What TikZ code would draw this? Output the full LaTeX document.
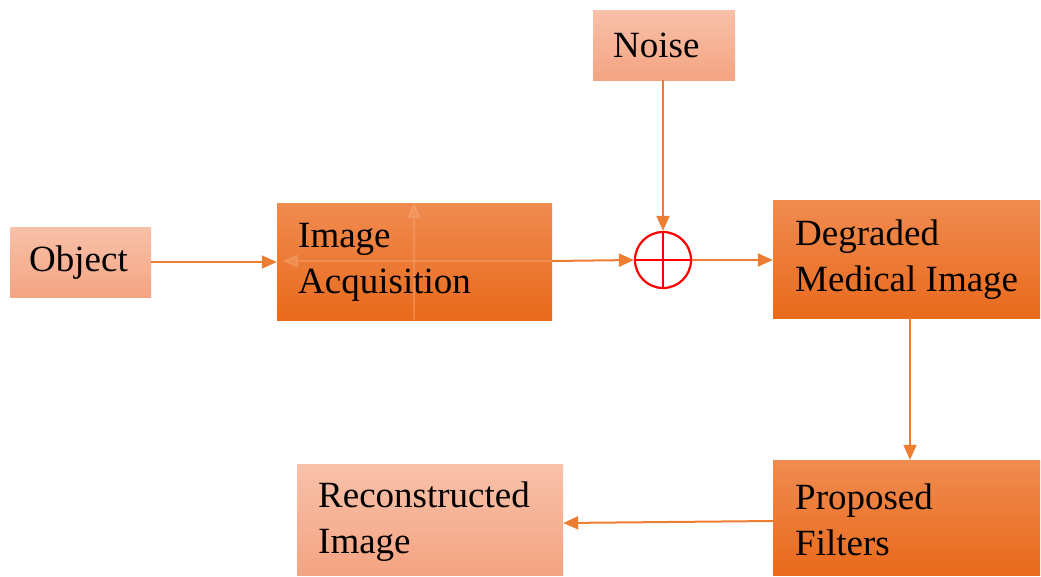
\documentclass[tikz,border=0pt]{standalone}
\usepackage{fontspec}
\setmainfont{Liberation Serif}
\usetikzlibrary{arrows.meta}
\definecolor{lineor}{HTML}{ED7D31}
\definecolor{lighttop}{HTML}{F8C1A9}
\definecolor{lightbot}{HTML}{F4A482}
\definecolor{darktop}{HTML}{F08B50}
\definecolor{darkbot}{HTML}{E96A1C}
\definecolor{ghost}{HTML}{F8B080}
\tikzset{
  lightbox/.style={rectangle, inner sep=0pt, top color=lighttop, bottom color=lightbot, draw=none},
  darkbox/.style={rectangle, inner sep=0pt, top color=darktop, bottom color=darkbot, draw=none},
  lbl/.style={font=\fontsize{37}{46}\selectfont, align=left, anchor=west, inner sep=0pt, text=black},
  conn/.style={draw=lineor, line width=2pt, -{Triangle[length=15pt,width=13pt]}},
  faint/.style={draw=ghost, draw opacity=0.35, fill opacity=0.35, line width=1.6pt, -{Triangle[length=15pt,width=13pt]}},
}
\begin{document}
\begin{tikzpicture}[x=1pt,y=-1pt]
\useasboundingbox (0,0) rectangle (1041,576);
% boxes
\path[lightbox] (10,227) rectangle (151,297);
\node[inner sep=0pt, minimum width=141pt, minimum height=70pt] (obj) at (80.5,262) {};
\path[darkbox] (277,203) rectangle (552,320);
\node[inner sep=0pt, minimum width=275pt, minimum height=117pt] (acq) at (414.5,261.5) {};
\path[lightbox] (593,10) rectangle (735,80);
\node[inner sep=0pt, minimum width=142pt, minimum height=70pt] (noise) at (664,45) {};
\path[darkbox] (773,200) rectangle (1040,318);
\node[inner sep=0pt, minimum width=267pt, minimum height=118pt] (deg) at (906.5,259) {};
\path[darkbox] (773,460) rectangle (1040,575);
\node[inner sep=0pt, minimum width=267pt, minimum height=115pt] (filt) at (906.5,517.5) {};
\path[lightbox] (297,464) rectangle (563,575);
\node[inner sep=0pt, minimum width=266pt, minimum height=111pt] (rec) at (430,519.5) {};

% faint traces inside the acquisition block
\coordinate (vb) at (414,320);
\coordinate (vt) at (414,203);
\coordinate (hr) at (552,261);
\coordinate (hl) at (283,261);
\draw[faint] (vb) -- (vt);
\draw[faint] (hr) -- (hl);

% labels
\node[lbl] at (29,263) {Object};
\node[lbl] at (298,262) {Image\\Acquisition};
\node[lbl] at (613,45) {Noise};
\node[lbl] at (795,259.5) {Degraded\\Medical Image};
\node[lbl] at (795,520) {Proposed\\Filters};
\node[lbl] at (318,522) {Reconstructed\\Image};

% summing junction
\node[circle, draw=red, line width=2.2pt, minimum size=56pt, inner sep=0pt] (sum) at (663,260) {};
\draw[red, line width=2.2pt] (sum.north) -- (sum.south) (sum.west) -- (sum.east);

% connectors
\draw[conn] (obj.east |- 0,262) -- (acq.west |- 0,262);
\draw[conn] (acq.east |- 0,261) -- (sum.west);
\draw[conn] (noise.south -| sum.north) -- (sum.north);
\draw[conn] (sum.east) -- (deg.west |- sum.east);
\draw[conn] (deg.south -| 910,0) -- (filt.north -| 910,0);
\draw[conn] (filt.west |- 0,521) -- (rec.east |- 0,523);
\end{tikzpicture}
\end{document}
